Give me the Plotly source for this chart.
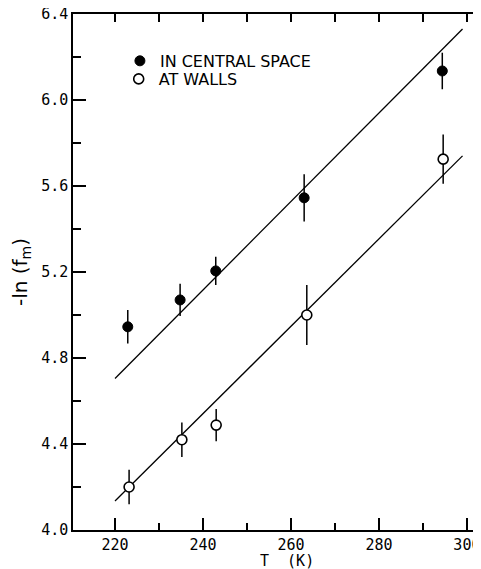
import plotly.graph_objects as go

# data
T_central = [222.9, 234.8, 242.9, 263.0, 294.4]
lnf_central = [4.945, 5.07, 5.205, 5.545, 6.135]
err_central = [0.078, 0.075, 0.066, 0.11, 0.085]

T_walls = [223.2, 235.2, 243.0, 263.6, 294.6]
lnf_walls = [4.20, 4.42, 4.488, 5.00, 5.725]
err_walls = [0.08, 0.08, 0.075, 0.14, 0.115]

fit_T = [220, 299]
fit_central = [4.705, 6.33]
fit_walls = [4.135, 5.74]

x_ticks = [220, 240, 260, 280, 300]
y_ticks = [4.0, 4.4, 4.8, 5.2, 5.6, 6.0, 6.4]

x_range = [210.45, 303.2]
y_range = [4.0, 6.4]

fig = go.Figure()

fig.add_trace(go.Scatter(x=fit_T, y=fit_central, mode="lines",
                         line=dict(color="black", width=1.3), showlegend=False))
fig.add_trace(go.Scatter(x=fit_T, y=fit_walls, mode="lines",
                         line=dict(color="black", width=1.3), showlegend=False))

fig.add_trace(go.Scatter(
    x=T_central, y=lnf_central, mode="markers", name="IN CENTRAL SPACE", legend="legend",
    marker=dict(symbol="circle", size=10, color="black", line=dict(color="black", width=1)),
    error_y=dict(type="data", array=err_central, color="black", thickness=1.5, width=0)))
fig.add_trace(go.Scatter(
    x=T_walls, y=lnf_walls, mode="markers", name="AT WALLS", legend="legend2",
    marker=dict(symbol="circle", size=10, color="white", line=dict(color="black", width=1.6)),
    error_y=dict(type="data", array=err_walls, color="black", thickness=1.5, width=0)))

tickfont = dict(family="DejaVu Sans Mono", size=15, color="black")
legendfont = dict(family="DejaVu Sans", size=16, color="black")

# the page body adds an 8px offset, so the figure is 8px smaller than the window
fig.update_layout(
    width=473, height=561,
    margin=dict(l=65, r=0, t=6, b=39, autoexpand=False),
    plot_bgcolor="white", paper_bgcolor="white",
    font=dict(family="DejaVu Sans", color="black"),
    xaxis=dict(range=x_range, tickvals=x_ticks, ticks="inside", ticklen=12, tickwidth=1.5,
               tickcolor="black", showline=True, linecolor="black", linewidth=1.5,
               showgrid=False, zeroline=False, tickfont=tickfont, automargin=False,
               ticklabeloverflow="allow",
               minor=dict(dtick=10, tick0=220, ticks="inside", ticklen=7, tickwidth=1.5,
                          tickcolor="black", showgrid=False)),
    xaxis2=dict(range=x_range, overlaying="x", side="top", anchor="y", automargin=False,
                dtick=10, tick0=220, ticks="inside", ticklen=8, tickwidth=1.5, tickcolor="black",
                showline=True, linecolor="black", linewidth=1.5, showticklabels=False,
                showgrid=False, zeroline=False),
    yaxis=dict(range=y_range, tickvals=y_ticks, tickformat=".1f", ticks="inside", ticklen=13,
               tickwidth=1.5, tickcolor="black", showline=True, linecolor="black", linewidth=1.5,
               showgrid=False, zeroline=False, tickfont=tickfont, automargin=False,
               ticklabeloverflow="allow",
               title=dict(text="-ln (f<sub>m</sub>)", font=dict(size=20), standoff=12),
               minor=dict(dtick=0.2, tick0=4.0, ticks="inside", ticklen=8, tickwidth=1.5,
                          tickcolor="black", showgrid=False)),
    yaxis2=dict(range=y_range, overlaying="y", side="right", anchor="x", automargin=False,
                dtick=0.2, tick0=4.0, ticks="inside", ticklen=5, tickwidth=1.5, tickcolor="black",
                showline=False, showticklabels=False, showgrid=False, zeroline=False),
    legend=dict(x=0.115, y=0.942, xanchor="left", yanchor="top", bgcolor="rgba(0,0,0,0)",
                font=legendfont, itemwidth=30),
    legend2=dict(x=0.112, y=0.907, xanchor="left", yanchor="top", bgcolor="rgba(0,0,0,0)",
                 font=legendfont, itemwidth=30),
    annotations=[dict(text="T  (K)", x=0.524, y=0, xref="paper", yref="paper",
                      yshift=-31, showarrow=False, yanchor="middle",
                      font=dict(family="DejaVu Sans Mono", size=15, color="black"))],
)

# invisible trace so the mirrored top/right axes are drawn
fig.add_trace(go.Scatter(x=[None], y=[None], xaxis="x2", yaxis="y2", showlegend=False,
                         hoverinfo="skip"))

fig.write_html("out.html")
